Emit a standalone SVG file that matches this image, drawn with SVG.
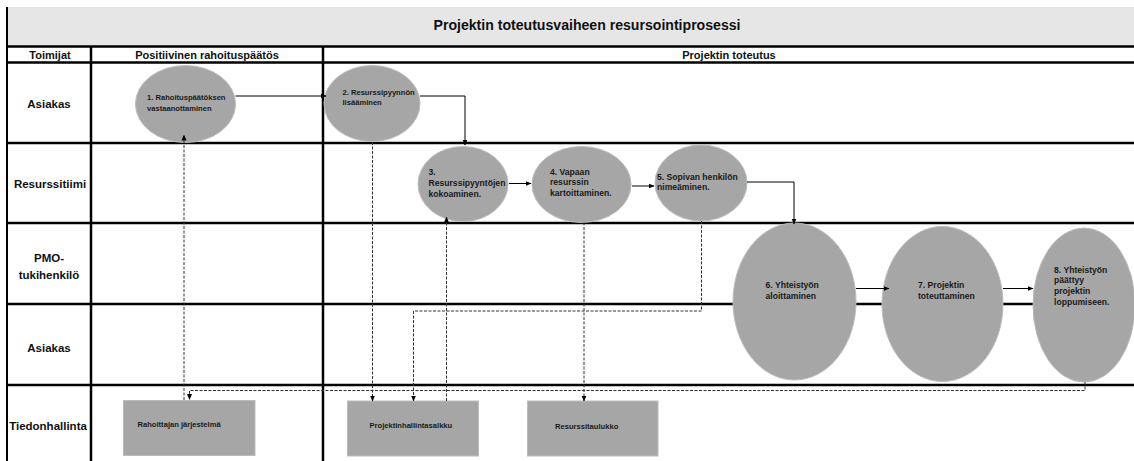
<svg xmlns="http://www.w3.org/2000/svg" width="1134" height="461" viewBox="0 0 1134 461">
  <style>
    .grid { stroke: #000; stroke-width: 2.5; fill: none; }
    .lbl { font-family: "Liberation Sans", Arial, sans-serif; font-weight: bold; fill: #111; text-anchor: middle; }
    .step { fill: #a6a6a6; stroke: #bcbcbc; stroke-width: 1; }
    .txt { font-family: "Liberation Sans", Arial, sans-serif; font-weight: bold; fill: #1a1a1a; }
    .s { font-size: 7.6px; }
    .m { font-size: 8.6px; }
    .flow { stroke: #000; stroke-width: 1; fill: none; }
    .info { stroke: #333; stroke-width: 1; fill: none; stroke-dasharray: 3 1.5; }
  </style>
  <defs>
    <marker id="arr" markerWidth="6" markerHeight="6" refX="5.5" refY="3" orient="auto" markerUnits="userSpaceOnUse">
      <path d="M0,0.5 L6,3 L0,5.5 z" fill="#000"/>
    </marker>
  </defs>

  <rect width="1134" height="461" fill="#fff"/>

  <!-- title band -->
  <rect x="7" y="7" width="1127" height="39.5" fill="#e6e6e6"/>
  <text class="lbl" x="587" y="30" font-size="14" textLength="307" lengthAdjust="spacingAndGlyphs">Projektin toteutusvaiheen resursointiprosessi</text>

  <!-- swimlane grid -->
  <g id="grid">
    <line class="grid" x1="7" y1="46.5" x2="1134" y2="46.5"/>
    <line class="grid" x1="7" y1="62.5" x2="1134" y2="62.5"/>
    <line class="grid" x1="7" y1="143" x2="1134" y2="143"/>
    <line class="grid" x1="7" y1="223" x2="1134" y2="223"/>
    <line class="grid" x1="7" y1="304" x2="1134" y2="304"/>
    <line class="grid" x1="7" y1="385" x2="1134" y2="385"/>
    <line x1="7" y1="7" x2="7" y2="461" stroke="#000" stroke-width="2"/>
    <line class="grid" x1="91" y1="46" x2="91" y2="461"/>
    <line class="grid" x1="323" y1="46" x2="323" y2="461"/>
  </g>

  <!-- column and lane headings -->
  <g id="headings">
    <text class="lbl" x="50" y="59" font-size="11">Toimijat</text>
    <text class="lbl" x="207" y="59" font-size="11">Positiivinen rahoituspäätös</text>
    <text class="lbl" x="729" y="59" font-size="11">Projektin toteutus</text>
    <text class="lbl" x="49" y="108" font-size="11.5">Asiakas</text>
    <text class="lbl" x="50" y="188" font-size="11.5">Resurssitiimi</text>
    <text class="lbl" x="49" y="262" font-size="11.5">PMO-</text>
    <text class="lbl" x="49" y="279" font-size="11.5">tukihenkilö</text>
    <text class="lbl" x="49" y="352" font-size="11.5">Asiakas</text>
    <text class="lbl" x="48" y="430" font-size="11.5">Tiedonhallinta</text>
  </g>

  <!-- process steps -->
  <g id="step1">
    <ellipse class="step" cx="185.5" cy="104" rx="50" ry="38.5"/>
    <text class="txt s" x="147" y="99.5">1. Rahoituspäätöksen</text>
    <text class="txt s" x="147" y="110.5">vastaanottaminen</text>
  </g>
  <g id="step2">
    <ellipse class="step" cx="372" cy="103.5" rx="48" ry="38"/>
    <text class="txt s" x="342.5" y="95">2. Resurssipyynnön</text>
    <text class="txt s" x="342.5" y="105">lisääminen</text>
  </g>
  <g id="step3">
    <ellipse class="step" cx="463" cy="184" rx="45" ry="37.5"/>
    <text class="txt m" x="428.5" y="175">3.</text>
    <text class="txt m" x="428.5" y="186">Resurssipyyntöjen</text>
    <text class="txt m" x="428.5" y="197">kokoaminen.</text>
  </g>
  <g id="step4">
    <ellipse class="step" cx="581.5" cy="184.5" rx="49.5" ry="38"/>
    <text class="txt m" x="550" y="174.5">4. Vapaan</text>
    <text class="txt m" x="550" y="185">resurssin</text>
    <text class="txt m" x="550" y="195.5">kartoittaminen.</text>
  </g>
  <g id="step5">
    <ellipse class="step" cx="701" cy="183" rx="46" ry="38"/>
    <text class="txt m" x="657" y="179.5">5. Sopivan henkilön</text>
    <text class="txt m" x="657" y="190">nimeäminen.</text>
  </g>
  <g id="step6">
    <ellipse class="step" cx="794.5" cy="301.5" rx="61.5" ry="78.5"/>
    <text class="txt m" x="765.5" y="287.5">6. Yhteistyön</text>
    <text class="txt m" x="765.5" y="299">aloittaminen</text>
  </g>
  <g id="step7">
    <ellipse class="step" cx="942.5" cy="304" rx="60.5" ry="77.5"/>
    <text class="txt m" x="918" y="288">7. Projektin</text>
    <text class="txt m" x="918" y="299">toteuttaminen</text>
  </g>
  <g id="step8">
    <ellipse class="step" cx="1084" cy="305" rx="51" ry="77"/>
    <text class="txt m" x="1054" y="272.5">8. Yhteistyön</text>
    <text class="txt m" x="1054" y="283.3">päättyy</text>
    <text class="txt m" x="1054" y="294">projektin</text>
    <text class="txt m" x="1054" y="304.5">loppumiseen.</text>
  </g>

  <!-- information systems -->
  <g id="sys-rahoittaja">
    <rect class="step" x="123.5" y="400.5" width="131.5" height="55"/>
    <text class="txt s" x="137.5" y="427">Rahoittajan järjestelmä</text>
  </g>
  <g id="sys-salkku">
    <rect class="step" x="347.5" y="401" width="131" height="55"/>
    <text class="txt s" x="369.5" y="428">Projektinhallintasalkku</text>
  </g>
  <g id="sys-resurssit">
    <rect class="step" x="527.5" y="401" width="130.5" height="55"/>
    <text class="txt s" x="555" y="429">Resurssitaulukko</text>
  </g>

  <!-- connectors -->
  <g id="connectors">
    <path class="flow" d="M235.5,96 H326" marker-end="url(#arr)"/>
    <path class="flow" d="M420,96 H465 V145" marker-end="url(#arr)"/>
    <path class="flow" d="M509,183.5 H531" marker-end="url(#arr)"/>
    <path class="flow" d="M632,186 H654" marker-end="url(#arr)"/>
    <path class="flow" d="M747,182 H794 V224" marker-end="url(#arr)"/>
    <path class="flow" d="M856,288.5 H889" marker-end="url(#arr)"/>
    <path class="flow" d="M1003,288.5 H1033" marker-end="url(#arr)"/>

    <path class="info" d="M184,400 V135" marker-end="url(#arr)"/>
    <path class="info" d="M1085,382 V390.5 H189.5 V399.5" marker-end="url(#arr)"/>
    <path class="info" d="M372.5,142 V401" marker-end="url(#arr)"/>
    <path class="info" d="M446.5,401 V217" marker-end="url(#arr)"/>
    <path class="info" d="M584,222.5 V401" marker-end="url(#arr)"/>
    <path class="info" d="M701.5,221 V311 H413.5 V401" marker-end="url(#arr)"/>
  </g>
</svg>
